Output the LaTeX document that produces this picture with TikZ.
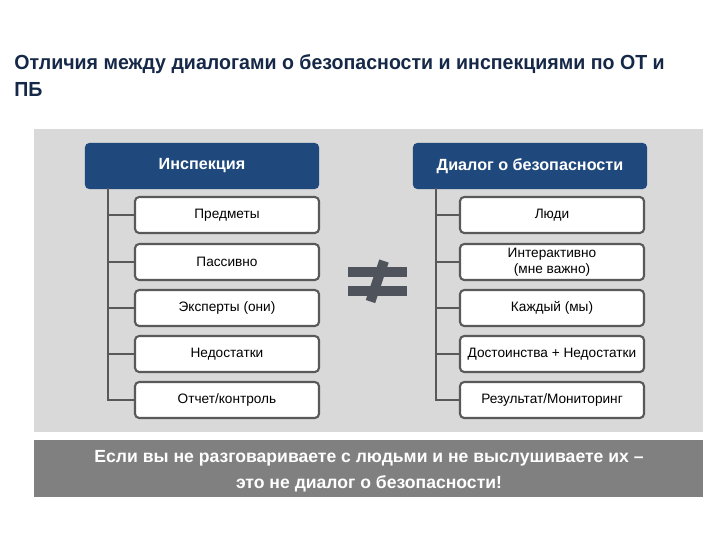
\documentclass[tikz,border=0pt]{standalone}
\usepackage{fontspec}
\setmainfont{Liberation Sans}
\newfontfamily\narrowfont[FakeStretch=0.96]{Liberation Sans}
\usepackage{tikz}
\definecolor{headblue}{RGB}{31,73,125}
\definecolor{panelgray}{RGB}{217,217,217}
\definecolor{bannergray}{RGB}{128,128,128}
\definecolor{linegray}{RGB}{89,89,89}
\definecolor{neqgray}{RGB}{79,83,91}
\definecolor{titleblue}{RGB}{22,40,72}
\tikzset{
  headbox/.style = {rectangle, rounded corners=3pt, fill=headblue, text=white,
    font=\bfseries\fontsize{11.5}{13.5}\selectfont, inner sep=0pt,
    minimum width=5.85cm, minimum height=1.15cm},% shapka
  itembox/.style = {rectangle, rounded corners=3pt, draw=linegray, fill=white,
    line width=1.5pt, align=center, inner sep=0pt, text=black,
    font=\fontsize{9.7}{11.7}\selectfont,
    minimum width=4.6cm, minimum height=0.9cm},% punkt
  branch/.style = {draw=linegray, line width=1.5pt}% vetka
}

\begin{document}
\begin{tikzpicture}[x=0.025cm,y=-0.025cm]
  \useasboundingbox (0,0) rectangle (720,540);

  % title
  \node [anchor=north west, inner sep=0pt, align=left, text=titleblue,
    font=\narrowfont\bfseries\fontsize{14.5}{19.5}\selectfont] (title) at (14,54)
    {Отличия между диалогами о безопасности и инспекциями по ОТ и\\ПБ};

  % panel
  \fill [panelgray] (34,129) rectangle (703,432);

  % left column
  \node [headbox] (lh) at (202,166) {Инспекция};
  \node [itembox] (l1) at (227,215) {Предметы};
  \node [itembox] (l2) at (227,262) {Пассивно};
  \node [itembox] (l3) at (227,308) {Эксперты (они)};
  \node [itembox] (l4) at (227,354) {Недостатки};
  \node [itembox] (l5) at (227,400) {Отчет/контроль};
  \coordinate (lt) at (108,188);

  % right column
  \node [headbox] (rh) at (530,166) {Диалог о безопасности};
  \node [itembox] (r1) at (552,215) {Люди};
  \node [itembox] (r2) at (552,262) {Интерактивно\\(мне важно)};
  \node [itembox] (r3) at (552,308) {Каждый (мы)};
  \node [itembox] (r4) at (552,354) {Достоинства + Недостатки};
  \node [itembox] (r5) at (552,400) {Результат/Мониторинг};
  \coordinate (rt) at (436,188);

  \foreach \i in {1,...,5} {
    \draw [branch] (lt) |- (l\i.west);
    \draw [branch] (rt) |- (r\i.west);
  }

  % not equal
  \fill [neqgray] (348,267) rectangle (407,277);
  \fill [neqgray] (348,286) rectangle (407,296);
  \draw [neqgray, line width=7pt] (384,261) -- (370.5,301.5);

  % banner
  \fill [bannergray] (34,440) rectangle (703,497);
  \node [align=center, text=white, inner sep=0pt,
    font=\bfseries\fontsize{12.5}{18.5}\selectfont] (note) at (369,471)
    {Если вы не разговариваете с людьми и не выслушиваете их –\\это не диалог о безопасности!};
\end{tikzpicture}
\end{document}
